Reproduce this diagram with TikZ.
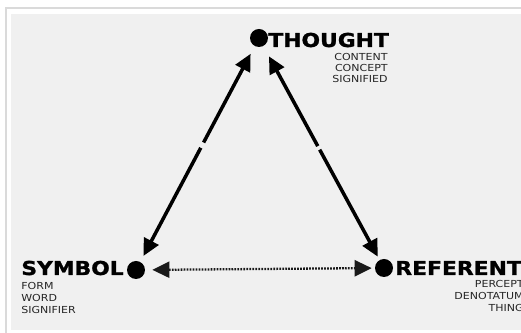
\documentclass[tikz,border=0pt]{standalone}
\usepackage{fontspec}
\newfontfamily\triadfont[FakeStretch=1.14, BoldFeatures={FakeBold=1.3}]{DejaVu Sans}
\usetikzlibrary{arrows.meta}
\definecolor{sheet}{RGB}{240,240,240}
\definecolor{frameline}{RGB}{218,218,218}

\tikzset{
  pole/.style={circle, fill=black, inner sep=0pt, minimum size=0.36cm},
  polename/.style={font=\triadfont\bfseries\fontsize{10.9}{12}\selectfont, inner sep=0pt, anchor=base west},
  gloss/.style={font=\triadfont\fontsize{5.5}{6.8}\selectfont, inner sep=0pt, text=black!85},
  link/.style={{Triangle[length=0.34cm,width=0.32cm]}-{Triangle[length=0.34cm,width=0.32cm]}, line width=2pt},
}

\begin{document}
\begin{tikzpicture}[x=0.02cm, y=-0.02cm]
  \useasboundingbox (0,0) rectangle (521,333);
  % photo sheet
  \fill[white] (0,0) rectangle (521,333);
  \draw[frameline, line width=1pt] (6,8) rectangle (540,350);
  \fill[sheet] (11,14) rectangle (521,330);

  % the three poles
  \node[pole] (thought) at (259,38) {};
  \node[pole] (symbol) at (136,270) {};
  \node[pole] (referent) at (384,268) {};

  \node[polename] (thoughtname) at (268,47) {THOUGHT};
  \node[polename] (symbolname) at (21,275) {SYMBOL};
  \node[polename] (referentname) at (395,275) {REFERENT};

  \node[gloss, anchor=north east, align=right, font=\triadfont\fontsize{5.5}{6.2}\selectfont]
    (thoughtgloss) at (388,53) {CONTENT\\CONCEPT\\SIGNIFIED};
  \node[gloss, anchor=north west, align=left] (symbolgloss) at (21,282) {FORM\\WORD\\SIGNIFIER};
  \node[gloss, anchor=north east, align=right] (referentgloss) at (524,280) {PERCEPT\\DENOTATUM\\THING};

  % relations
  \draw[link, shorten <=0.17cm, shorten >=0.13cm, dash pattern=on 48pt off 3.4pt on 300pt] (thought) -- (symbol);
  \draw[link, shorten <=0.23cm, shorten >=0.07cm, dash pattern=on 49pt off 2.3pt on 300pt] (thought) -- (referent);
  \draw[link, line width=1.3pt, black!90, dash pattern=on 1pt off 0.7pt, shorten <=0.14cm, shorten >=0.06cm] (symbol) -- (referent);
\end{tikzpicture}
\end{document}
